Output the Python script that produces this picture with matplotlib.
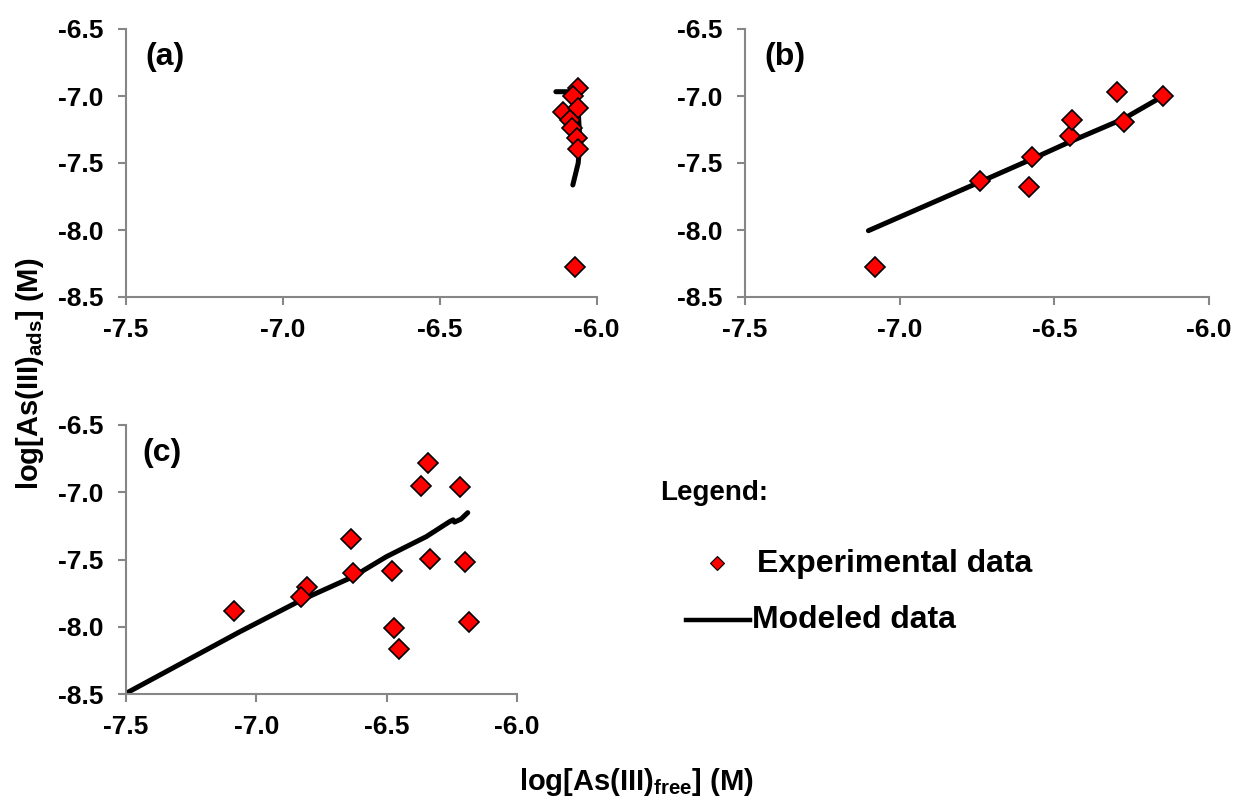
import numpy as np
import matplotlib as mpl
import matplotlib.pyplot as plt
from matplotlib.lines import Line2D

# Panel (a) - experimental and modeled
a_exp_x = [-6.060, -6.075, -6.107, -6.060, -6.086, -6.081, -6.065, -6.060, -6.070]
a_exp_y = [-6.943, -7.000, -7.117, -7.092, -7.179, -7.241, -7.316, -7.398, -8.274]
a_mod_x = [-6.131, -6.070, -6.060, -6.054, -6.060, -6.077]
a_mod_y = [-6.968, -6.968, -7.104, -7.353, -7.502, -7.664]

# Panel (b)
b_exp_x = [-7.079, -6.739, -6.583, -6.572, -6.448, -6.443, -6.299, -6.276, -6.148]
b_exp_y = [-8.274, -7.632, -7.677, -7.453, -7.299, -7.179, -6.972, -7.196, -7.000]
b_mod_x = [-7.101, -6.739, -6.572, -6.448, -6.276, -6.148]
b_mod_y = [-8.005, -7.640, -7.470, -7.340, -7.170, -7.000]

# Panel (c)
c_exp_x = [-7.085, -6.804, -6.827, -6.635, -6.631, -6.478, -6.470, -6.453,
           -6.367, -6.340, -6.333, -6.218, -6.201, -6.186]
c_exp_y = [-7.881, -7.702, -7.777, -7.348, -7.603, -7.586, -8.007, -8.168,
           -6.954, -6.785, -7.496, -6.959, -7.521, -7.962]
c_mod_x = [-7.500, -7.063, -6.827, -6.629, -6.501, -6.348, -6.259, -6.245, -6.240, -6.215, -6.189]
c_mod_y = [-8.495, -8.037, -7.801, -7.628, -7.479, -7.330, -7.219, -7.205, -7.222, -7.200, -7.152]

xticks = [-7.5, -7.0, -6.5, -6.0]
yticks = [-6.5, -7.0, -7.5, -8.0, -8.5]
panels = ['(a)', '(b)', '(c)']

mpl.rcParams.update({'font.family': 'Liberation Sans', 'font.weight': 'bold',
                     'font.size': 19,
                     'mathtext.fontset': 'custom',
                     'mathtext.rm': 'Liberation Sans:bold',
                     'mathtext.bf': 'Liberation Sans:bold',
                     'mathtext.it': 'Liberation Sans:bold',
                     'mathtext.default': 'bf'})
gray = '#868686'

fig = plt.figure(figsize=(12.35, 8), dpi=100)
W, H = 1235., 800.

def make_ax(l, r, t, b):
    return fig.add_axes([l/W, 1-b/H, (r-l)/W, (b-t)/H])

ax_a = make_ax(126, 597, 29, 297)
ax_b = make_ax(745, 1209, 29, 297)
ax_c = make_ax(126, 517, 425, 694)

data = [(ax_a, a_exp_x, a_exp_y, a_mod_x, a_mod_y),
        (ax_b, b_exp_x, b_exp_y, b_mod_x, b_mod_y),
        (ax_c, c_exp_x, c_exp_y, c_mod_x, c_mod_y)]

for i, (ax, ex, ey, mx, my) in enumerate(data):
    ax.plot(mx, my, color='black', lw=3.6, solid_capstyle='round', zorder=2)
    ax.plot(ex, ey, ls='none', marker='D', ms=10, mfc='red', mec='black',
            mew=1.2, zorder=3)
    ax.set_xlim(-7.5, -6.0)
    ax.set_ylim(-8.5, -6.5)
    ax.set_xticks(xticks)
    ax.set_yticks(yticks)
    ax.set_xticklabels(['%.1f' % v for v in xticks])
    ax.set_yticklabels(['%.1f' % v for v in yticks])
    for s in ['top', 'right']:
        ax.spines[s].set_visible(False)
    for s in ['left', 'bottom']:
        ax.spines[s].set_color(gray)
        ax.spines[s].set_linewidth(1.5)
    ax.tick_params(direction='out', length=6, width=1.5, color=gray)
    ax.tick_params(axis='x', pad=9)
    ax.tick_params(axis='y', pad=10)
    ax.text(0.042, 0.895, panels[i], transform=ax.transAxes, ha='left',
            va='center', fontsize=23, fontweight='bold')
    for lab in ax.get_xticklabels() + ax.get_yticklabels():
        lab.set_fontweight('bold')

# axis labels
fig.text(30/W, 1-374/H, r'log[As(III)$_{ads}$] (M)', rotation=90,
         ha='center', va='center', fontsize=21, fontweight='bold')
fig.text(636/W, 1-782/H, r'log[As(III)$_{free}$] (M)',
         ha='center', va='center', fontsize=21, fontweight='bold')

# legend block
fig.text(660/W, 1-493/H, 'Legend:', ha='left', va='center', fontsize=20)
fig.add_artist(Line2D([717/W], [1-563/H], ls='none', marker='D', ms=7.5,
                      mfc='red', mec='black', mew=0.8, transform=fig.transFigure))
fig.text(757/W, 1-564/H, 'Experimental data', ha='left', va='center', fontsize=23)
fig.add_artist(Line2D([686/W, 750/W], [1-620/H, 1-620/H], color='black', lw=3.2,
                      transform=fig.transFigure))
fig.text(752/W, 1-620/H, 'Modeled data', ha='left', va='center', fontsize=23)

fig.savefig('out.png', dpi=100)
